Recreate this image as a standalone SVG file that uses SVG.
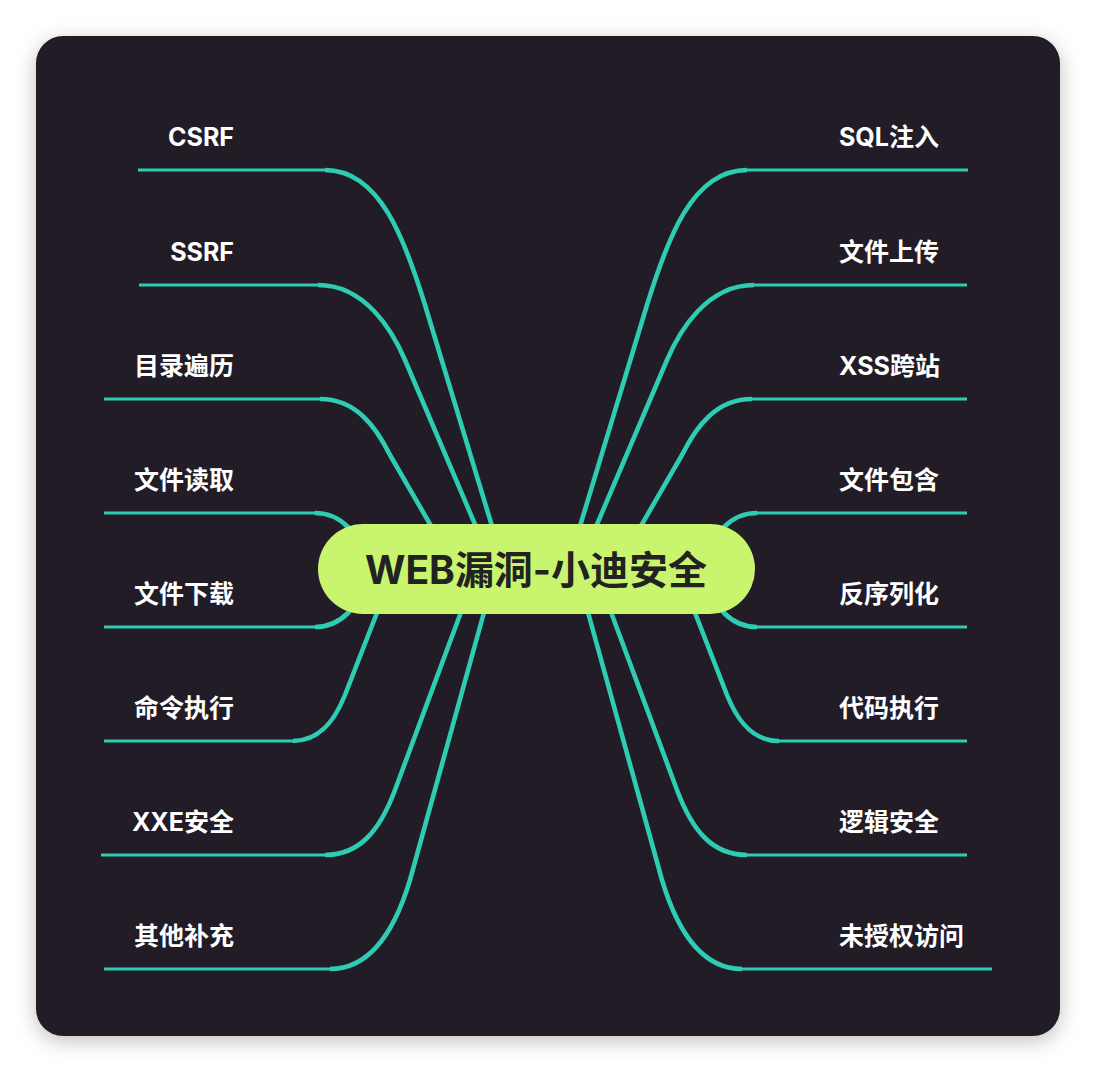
<svg xmlns="http://www.w3.org/2000/svg" width="1096" height="1072" viewBox="0 0 1096 1072">
<defs>
<style>
.bg{fill:#231F26}
.hl{fill:none;stroke:#2ECDB3;stroke-width:3;stroke-linecap:butt}
.cv{fill:none;stroke:#2ECDB3;stroke-width:4.6;stroke-linecap:butt;stroke-linejoin:round}
.lbl{font-family:Inter,"Noto Sans CJK SC",sans-serif;font-size:25px;font-weight:700;fill:#FFFFFF}
.l{text-anchor:end}
.r{text-anchor:start}
.root{font-family:Inter,"Noto Sans CJK SC",sans-serif;font-size:39px;font-weight:700;fill:#222222;text-anchor:middle}
.pill{fill:#C8F46E}
</style>
<filter id="sh" x="-10%" y="-10%" width="120%" height="120%">
<feDropShadow dx="0" dy="5" stdDeviation="10" flood-color="#000000" flood-opacity="0.25"/>
</filter>
</defs>
<rect x="0" y="0" width="1096" height="1072" fill="#FFFFFF"/>
<rect x="36" y="36" width="1024" height="1000" rx="27" class="bg" filter="url(#sh)"/>

<g id="connectors">
<!-- left -->
<path class="hl" d="M138,170 H326"/><path class="cv" d="M325,170 C380,170 405,240 425,305 L505,569"/>
<path class="hl" d="M139,285 H319"/><path class="cv" d="M318,285 C365,285 392,330 405,360 L494,569"/>
<path class="hl" d="M104,399 H321"/><path class="cv" d="M320,399 C355,399 375,425 390,455 L456,569"/>
<path class="hl" d="M104,513 H316"/><path class="cv" d="M315,513 C328,513 338,517 348,527 L370,555"/>
<path class="hl" d="M104,627 H316"/><path class="cv" d="M315,627 C328,627 338,623 348,613 L370,585"/>
<path class="hl" d="M104,741 H294"/><path class="cv" d="M293,741 C320,741 335,720 345,695 L394,569"/>
<path class="hl" d="M101,855 H326"/><path class="cv" d="M325,855 C360,855 380,830 395,790 L477,569"/>
<path class="hl" d="M104,969 H331"/><path class="cv" d="M330,969 C370,969 395,930 410,880 L496,569"/>
<!-- right -->
<path class="hl" d="M968,170 H746"/><path class="cv" d="M747,170 C692,170 667,240 647,305 L567,569"/>
<path class="hl" d="M967,285 H753"/><path class="cv" d="M754,285 C707,285 680,330 667,360 L578,569"/>
<path class="hl" d="M967,399 H751"/><path class="cv" d="M752,399 C717,399 697,425 682,455 L616,569"/>
<path class="hl" d="M967,513 H756"/><path class="cv" d="M757,513 C744,513 734,517 724,527 L702,555"/>
<path class="hl" d="M967,627 H756"/><path class="cv" d="M757,627 C744,627 734,623 724,613 L702,585"/>
<path class="hl" d="M967,741 H778"/><path class="cv" d="M779,741 C752,741 737,720 727,695 L678,569"/>
<path class="hl" d="M967,855 H746"/><path class="cv" d="M747,855 C712,855 692,830 677,790 L595,569"/>
<path class="hl" d="M992,969 H741"/><path class="cv" d="M742,969 C702,969 677,930 662,880 L576,569"/>
</g>

<g id="root">
<rect class="pill" x="318" y="524" width="437" height="90" rx="45"/>
<text class="root" x="536" y="584" textLength="342" lengthAdjust="spacing">WEB漏洞-小迪安全</text>
</g>

<g id="n-csrf"><text class="lbl l" x="234" y="146">CSRF</text></g>
<g id="n-ssrf"><text class="lbl l" x="234" y="261">SSRF</text></g>
<g id="n-dir"><text class="lbl l" x="234" y="375">目录遍历</text></g>
<g id="n-fread"><text class="lbl l" x="234" y="489">文件读取</text></g>
<g id="n-fdown"><text class="lbl l" x="234" y="603">文件下载</text></g>
<g id="n-cmd"><text class="lbl l" x="234" y="717">命令执行</text></g>
<g id="n-xxe"><text class="lbl l" x="234" y="831">XXE安全</text></g>
<g id="n-other"><text class="lbl l" x="234" y="945">其他补充</text></g>

<g id="n-sql"><text class="lbl r" x="839" y="146">SQL注入</text></g>
<g id="n-upload"><text class="lbl r" x="839" y="261">文件上传</text></g>
<g id="n-xss"><text class="lbl r" x="839" y="375">XSS跨站</text></g>
<g id="n-include"><text class="lbl r" x="839" y="489">文件包含</text></g>
<g id="n-unser"><text class="lbl r" x="839" y="603">反序列化</text></g>
<g id="n-code"><text class="lbl r" x="839" y="717">代码执行</text></g>
<g id="n-logic"><text class="lbl r" x="839" y="831">逻辑安全</text></g>
<g id="n-unauth"><text class="lbl r" x="839" y="945">未授权访问</text></g>
</svg>
